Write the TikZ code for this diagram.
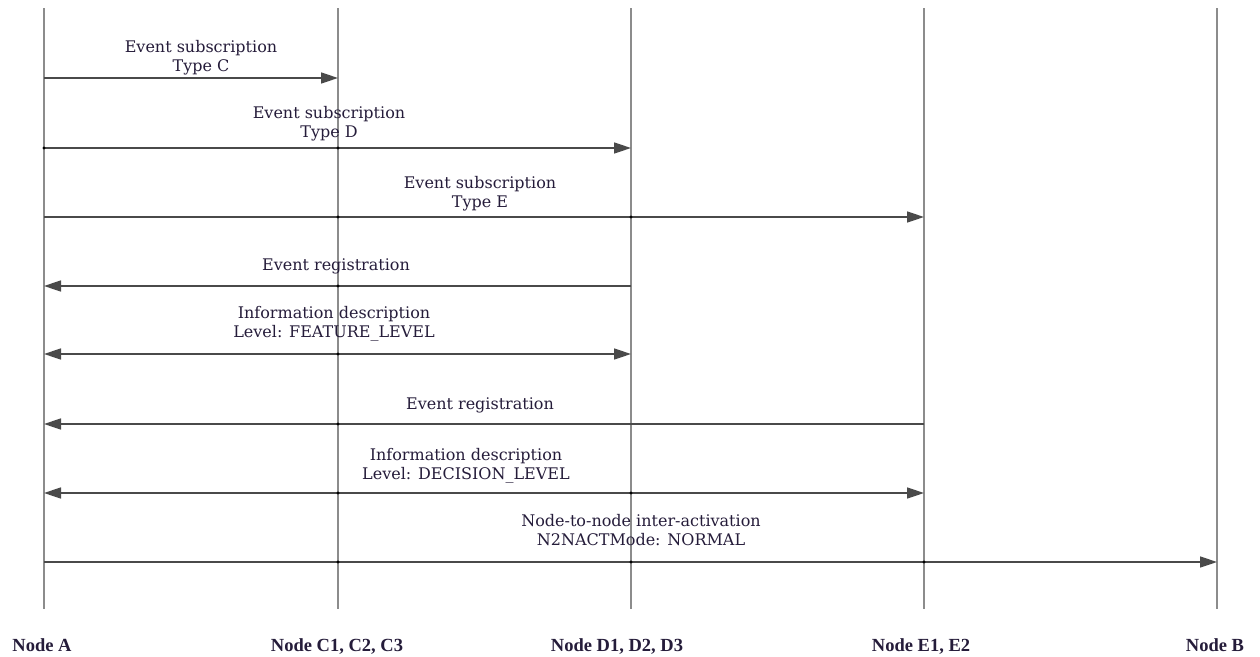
\documentclass[tikz,border=0pt]{standalone}
\usepackage{fontspec}
\setmainfont{DejaVu Serif}
\newfontfamily\lifefont{Liberation Serif}
\usetikzlibrary{arrows.meta,calc}
\definecolor{lifegray}{HTML}{8C8C8C}
\definecolor{msggray}{HTML}{4A4A4A}
\definecolor{inkcol}{HTML}{251C3A}
\tikzset{
  lifeline/.style={draw=lifegray, line width=1.3pt},
  msg/.style={draw=msggray, line width=1.6pt,
    -{Triangle[length=17pt,width=11pt]}},
  msgboth/.style={draw=msggray, line width=1.6pt,
    {Triangle[length=17pt,width=11pt]}-{Triangle[length=17pt,width=11pt]}},
  msglabel/.style={align=center, inner sep=0pt, text=inkcol, anchor=base,
    font=\fontsize{16}{19}\selectfont},
  lifelabel/.style={inner sep=0pt, text=inkcol, anchor=base,
    font=\lifefont\bfseries\fontsize{18.5}{20}\selectfont},
  xdot/.style={fill=black, circle, inner sep=0pt, minimum size=3.2pt}
}
\begin{document}
\begin{tikzpicture}[x=1pt,y=-1pt]
\useasboundingbox (0,0) rectangle (1260,656);

% lifelines
\foreach \n/\x in {A/44,C/338,D/631,E/924,B/1217}{
  \coordinate (\n-top) at (\x,8);
  \coordinate (\n-bot) at (\x,609);
  \draw[lifeline] (\n-top) -- (\n-bot);
}

% lifeline names
\node[lifelabel] (lA) at (42,651) {Node A};
\node[lifelabel] (lC) at (337,651) {Node C1, C2, C3};
\node[lifelabel] (lD) at (617,651) {Node D1, D2, D3};
\node[lifelabel] (lE) at (921,651) {Node E1, E2};
\node[lifelabel] (lB) at (1215,651) {Node B};

% message rows
\foreach \m/\y in {1/78,2/148,3/217,4/286,5/354,6/424,7/493,8/562}{
  \coordinate (m\m) at (0,\y);
}

% messages
\draw[msg] (A-top |- m1) -- (C-top |- m1);
\draw[msg] (A-top |- m2) -- (D-top |- m2);
\draw[msg] (A-top |- m3) -- (E-top |- m3);
\draw[msg] (D-top |- m4) -- (A-top |- m4);
\draw[msgboth] (A-top |- m5) -- (D-top |- m5);
\draw[msg] (E-top |- m6) -- (A-top |- m6);
\draw[msgboth] (A-top |- m7) -- (E-top |- m7);
\draw[msg] (A-top |- m8) -- (B-top |- m8);

% crossing marks
\node[xdot] at (A-top |- m2) {};
\node[xdot] at (C-top |- m2) {};
\node[xdot] at (C-top |- m3) {};
\node[xdot] at (D-top |- m3) {};
\node[xdot] at (C-top |- m4) {};
\node[xdot] at (C-top |- m5) {};
\node[xdot] at (C-top |- m6) {};
\node[xdot] at (C-top |- m7) {};
\node[xdot] at (D-top |- m7) {};
\node[xdot] at (C-top |- m8) {};
\node[xdot] at (D-top |- m8) {};
\node[xdot] at (E-top |- m8) {};

% message labels (anchored at the baseline of the last line)
\node[msglabel] (t1) at (201,71) {Event subscription\\Type C};
\node[msglabel] (t2) at (329,137) {Event subscription\\Type D};
\node[msglabel] (t3) at (480,207) {Event subscription\\Type E};
\node[msglabel] (t4) at (336,270) {Event registration};
\node[msglabel] (t5) at (334,337) {Information description\\Level: FEATURE\_LEVEL};
\node[msglabel] (t6) at (480,409) {Event registration};
\node[msglabel] (t7) at (466,479) {Information description\\Level: DECISION\_LEVEL};
\node[msglabel] (t8) at (641,545) {Node-to-node inter-activation\\N2NACTMode: NORMAL};
\end{tikzpicture}
\end{document}
